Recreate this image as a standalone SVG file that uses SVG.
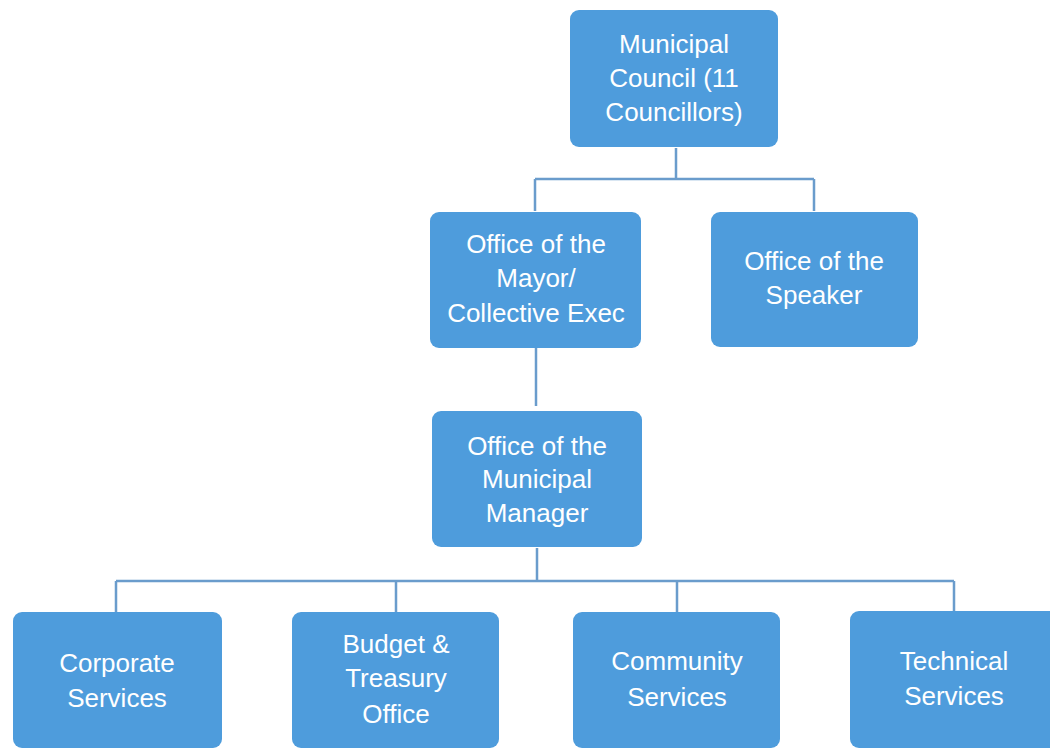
<svg xmlns="http://www.w3.org/2000/svg" width="1050" height="751" viewBox="0 0 1050 751">
<style>
.box{fill:#4e9cdc;}
.lbl{fill:#ffffff;font-family:"Liberation Sans",Arial,sans-serif;font-size:26px;text-anchor:middle;}
.con{fill:none;stroke:#6a9ccc;stroke-width:2.5;}
</style>
<rect width="1050" height="751" fill="#ffffff"/>
<g id="connectors">
<path class="con" d="M676,148 V179 M535,179 H814 M535,179 V211 M814,179 V211"/>
<path class="con" d="M536,348 V406"/>
<path class="con" d="M537,548 V581 M116,581 H954 M116,581 V612 M396,581 V612 M677,581 V612 M954,581 V612"/>
</g>
<g id="council">
<rect class="box" x="570" y="10" width="208" height="137" rx="9"/>
<text class="lbl" x="674" y="53">Municipal</text>
<text class="lbl" x="674" y="87">Council (11</text>
<text class="lbl" x="674" y="121">Councillors)</text>
</g>
<g id="mayor">
<rect class="box" x="430" y="212" width="211" height="136" rx="9"/>
<text class="lbl" x="536" y="253">Office of the</text>
<text class="lbl" x="536" y="287">Mayor/</text>
<text class="lbl" x="536" y="322">Collective Exec</text>
</g>
<g id="speaker">
<rect class="box" x="711" y="212" width="207" height="135" rx="9"/>
<text class="lbl" x="814" y="270">Office of the</text>
<text class="lbl" x="814" y="304">Speaker</text>
</g>
<g id="manager">
<rect class="box" x="432" y="411" width="210" height="136" rx="9"/>
<text class="lbl" x="537" y="455">Office of the</text>
<text class="lbl" x="537" y="488">Municipal</text>
<text class="lbl" x="537" y="522">Manager</text>
</g>
<g id="corporate">
<rect class="box" x="13" y="612" width="209" height="136" rx="9"/>
<text class="lbl" x="117" y="672">Corporate</text>
<text class="lbl" x="117" y="707">Services</text>
</g>
<g id="budget">
<rect class="box" x="292" y="612" width="207" height="136" rx="9"/>
<text class="lbl" x="396" y="653">Budget &amp;</text>
<text class="lbl" x="396" y="687">Treasury</text>
<text class="lbl" x="396" y="723">Office</text>
</g>
<g id="community">
<rect class="box" x="573" y="612" width="207" height="136" rx="9"/>
<text class="lbl" x="677" y="670">Community</text>
<text class="lbl" x="677" y="706">Services</text>
</g>
<g id="technical">
<rect class="box" x="850" y="611" width="210" height="137" rx="9"/>
<text class="lbl" x="954" y="670">Technical</text>
<text class="lbl" x="954" y="705">Services</text>
</g>
</svg>
